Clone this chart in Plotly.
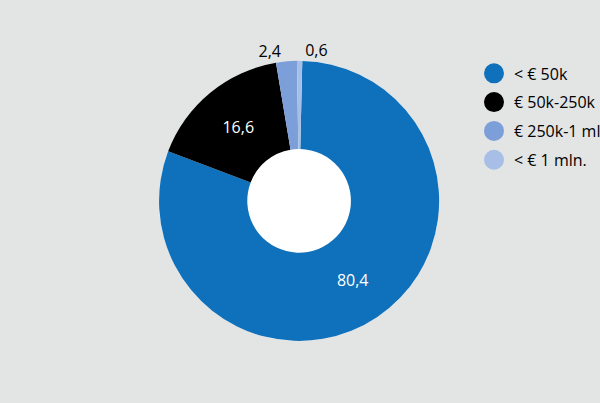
import plotly.graph_objects as go

labels = ["< € 50k", "€ 50k-250k", "€ 250k-1 mln.", "< € 1 mln."]
values = [80.4, 16.6, 2.4, 0.6]
colors = ["#0f71bb", "#000000", "#7d9fd9", "#a7bfe6"]
text_pos = ["inside", "inside", "outside", "outside"]
text_col = ["#ffffff", "#ffffff", "#000000", "#000000"]

bg = "#e3e4e4"
domain = dict(x=[0.265, 0.732], y=[0.154, 0.849])

fig = go.Figure()
# white disc behind the donut so the hole shows white
fig.add_trace(go.Pie(
    values=[1], marker=dict(colors=["#ffffff"], line=dict(width=0)),
    textinfo="none", hoverinfo="skip", showlegend=False, sort=False,
    domain=domain,
))
fig.add_trace(go.Pie(
    labels=labels, values=values, sort=False, direction="clockwise", rotation=1.3,
    hole=0.37, marker=dict(colors=colors, line=dict(width=0)),
    texttemplate="%{value:.1f}", textposition=text_pos,
    textfont=dict(family="Open Sans", size=16, color=text_col),
    insidetextorientation="horizontal",
    showlegend=False, hoverinfo="label+value",
    domain=domain,
))
for i, (lab, col) in enumerate(zip(labels, colors)):
    fig.add_trace(go.Scatter(
        x=[None], y=[None], mode="markers", name=lab, legendgroup=f"g{i}",
        marker=dict(symbol="circle", size=16, color=col, line=dict(width=4, color=col)),
        showlegend=True,
    ))

fig.update_layout(
    width=600, height=403,
    paper_bgcolor=bg, plot_bgcolor=bg,
    separators=",.",
    margin=dict(l=0, r=0, t=0, b=0, autoexpand=False),
    font=dict(family="Open Sans", size=16, color="#000000"),
    xaxis=dict(visible=False), yaxis=dict(visible=False),
    legend=dict(x=0.79, y=0.86, xanchor="left", yanchor="top",
                bgcolor="rgba(0,0,0,0)", font=dict(size=16, family="Open Sans"),
                itemsizing="trace", tracegroupgap=5),
)
post = """
document.body.style.margin='0';
document.querySelectorAll('.textline').forEach(function(e){e.style.display='none';});
"""
fig.write_html("out.html", post_script=post, config={"displayModeBar": False})
